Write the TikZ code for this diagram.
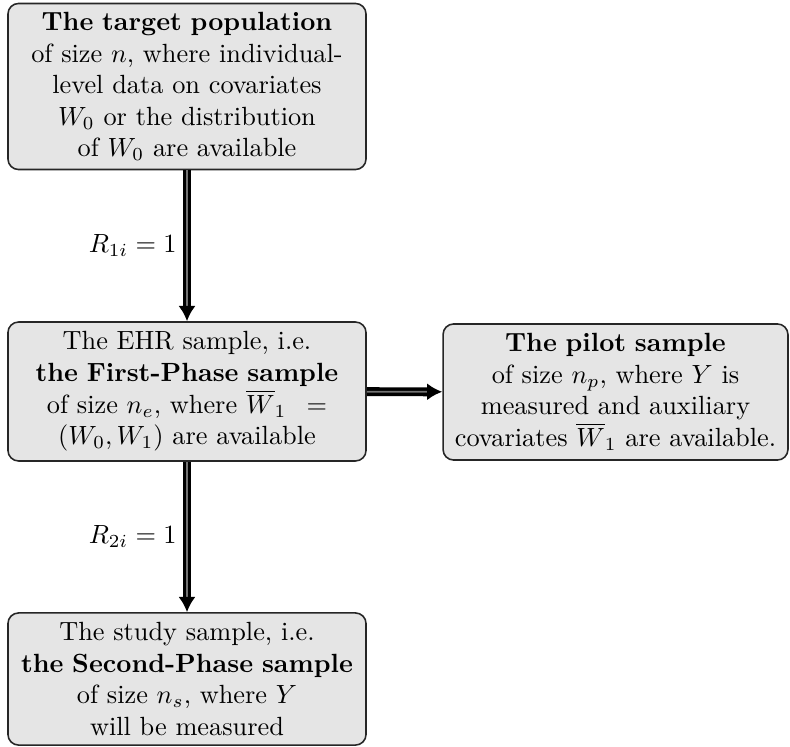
\documentclass[tikz,border=0pt]{standalone}
\usetikzlibrary{arrows.meta}
\begin{document}
\begin{tikzpicture}[x=0.38pt,y=-0.38pt]
	\tikzstyle{Box} = [rectangle, draw=black!85, semithick, rounded corners=4pt, fill=gray!20, align=center, text width=129.4pt, inner sep=3.33pt]
	\tikzstyle{Flow} = [draw, line width=1.35pt, double=black!55, double distance=0.7pt, -{Latex[length=5.8pt,width=6.6pt]}]
	\useasboundingbox (0,0) rectangle (790,747);
	\node (target) at (187,86.5) [Box, minimum height=62.7pt] {\textbf{The target population}\\ of size $n$, where individual-\\ level data on covariates\\ $W_0$ or the distribution\\ of $W_0$ are available};
	\node (ehr) at (187,391.5) [Box, minimum height=52.8pt] {The EHR sample, i.e.\\ \textbf{the First-Phase sample}\\ of size $n_e$, where $\overline{W}_1\ =$\\ $(W_0, W_1)$ are available};
	\node (pilot) at (615.5,392) [Box, text width=124.4pt, minimum height=51.7pt] {\textbf{The pilot sample}\\ of size $n_p$, where $Y$ is\\ measured and auxiliary\\ covariates $\overline{W}_1$ are available.};
	\node (study) at (187,679) [Box, minimum height=50.2pt] {The study sample, i.e.\\ \textbf{the Second-Phase sample}\\ of size $n_s$, where $Y$\\ will be measured};
	\draw [Flow] (target) to node[left] {$R_{1i} = 1$} (ehr);
	\draw [Flow] (ehr) to (pilot);
	\draw [Flow] (ehr) to node[left] {$R_{2i} = 1$} (study);
\end{tikzpicture}
\end{document}
